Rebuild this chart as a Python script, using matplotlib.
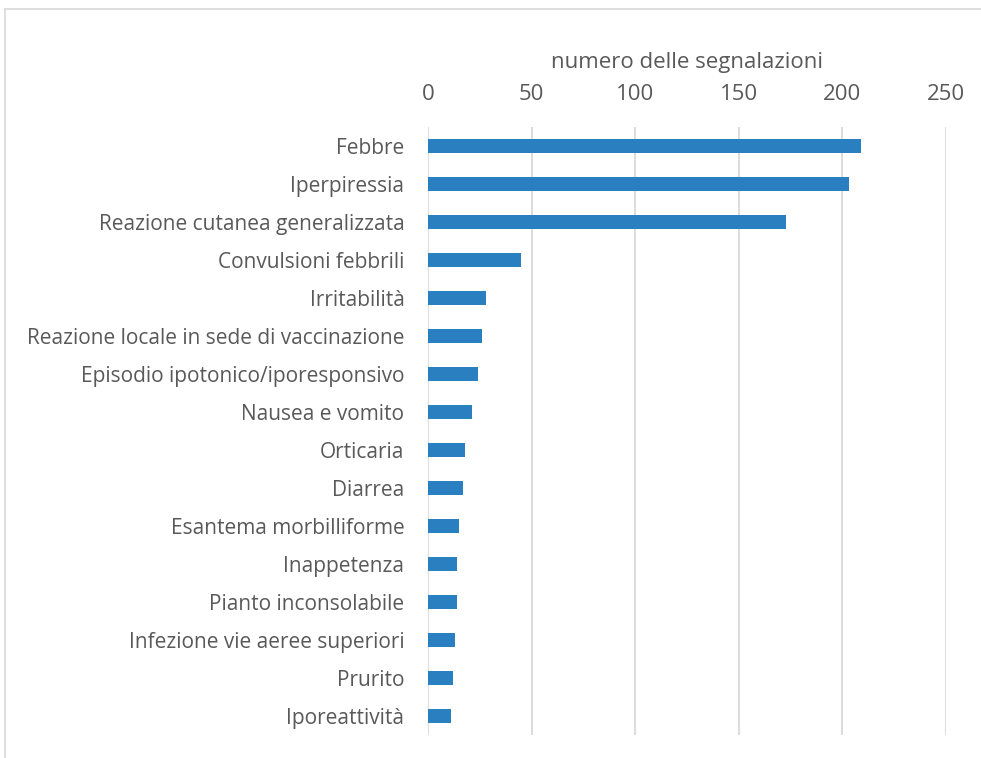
import matplotlib.pyplot as plt
from matplotlib.lines import Line2D

categories = [
    "Febbre",
    "Iperpiressia",
    "Reazione cutanea generalizzata",
    "Convulsioni febbrili",
    "Irritabilità",
    "Reazione locale in sede di vaccinazione",
    "Episodio ipotonico/iporesponsivo",
    "Nausea e vomito",
    "Orticaria",
    "Diarrea",
    "Esantema morbilliforme",
    "Inappetenza",
    "Pianto inconsolabile",
    "Infezione vie aeree superiori",
    "Prurito",
    "Iporeattività",
]
counts = [209, 203, 173, 45, 28, 26, 24, 21, 18, 17, 15, 14, 14, 13, 12, 11]
x_ticks = [0, 50, 100, 150, 200, 250]

TEXT = "#595959"
GRID = "#d9d9d9"
BAR = "#2a7fc1"

plt.rcParams["font.family"] = ["Open Sans", "DejaVu Sans"]

W, H = 981, 758
fig = plt.figure(figsize=(W / 100, H / 100), dpi=100)

# light frame (top and left edges of the chart area)
fx, fy = 5 / W, 1 - 9 / H
fig.add_artist(Line2D([fx, 1.0], [fy, fy], transform=fig.transFigure,
                      color=GRID, linewidth=1.2))
fig.add_artist(Line2D([fx, fx], [0.0, fy], transform=fig.transFigure,
                      color=GRID, linewidth=1.2))

ax = fig.add_axes([428 / W, 1 - 735 / H, (946 - 428) / W, (735 - 127) / H])

ypos = list(range(len(categories)))
ax.barh(ypos, counts, height=0.37, color=BAR, zorder=3)

ax.set_xlim(0, 250)
ax.set_ylim(len(categories) - 0.5, -0.5)
ax.set_yticks(ypos)
ax.set_yticklabels(categories)
ax.set_xticks(x_ticks)

ax.xaxis.tick_top()
ax.xaxis.set_label_position("top")
ax.set_xlabel("numero delle segnalazioni", fontsize=16, color=TEXT, labelpad=11)

ax.tick_params(axis="both", length=0, labelcolor=TEXT)
ax.tick_params(axis="y", pad=17, labelsize=15)
ax.tick_params(axis="x", pad=16, labelsize=16)

ax.grid(axis="x", color=GRID, linewidth=1.3, zorder=0)
for side in ("top", "right", "bottom", "left"):
    ax.spines[side].set_visible(False)

fig.savefig("out.png", dpi=100)
